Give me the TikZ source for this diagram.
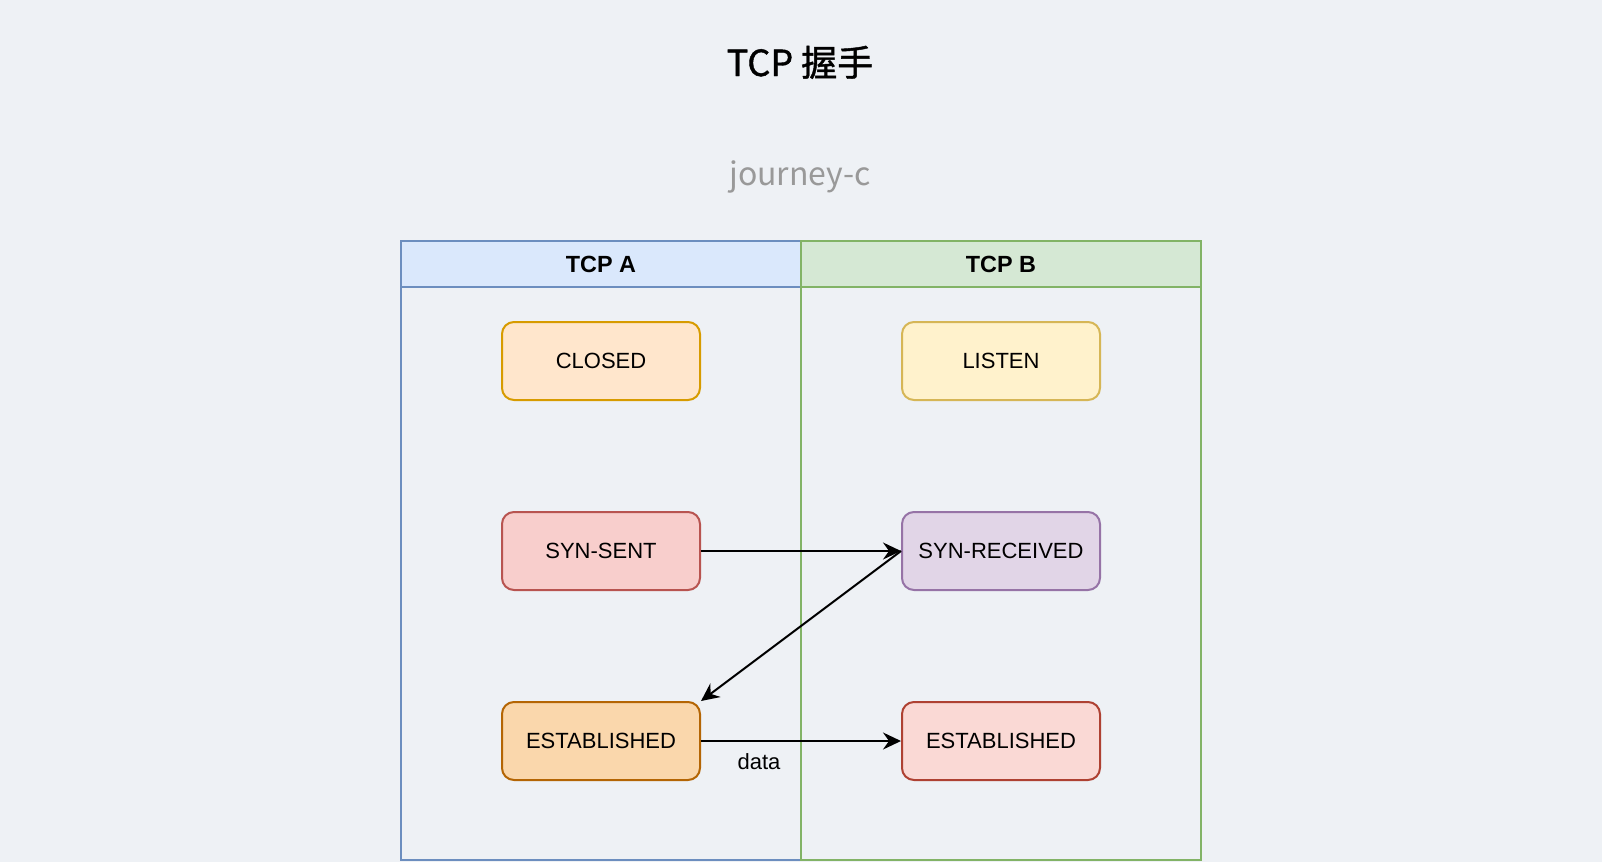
\documentclass[tikz,border=0pt]{standalone}
\usepackage{fontspec}
\setmainfont{Liberation Sans}
\newfontfamily\cjkfont{Noto Sans CJK SC}
\newfontfamily\cjktitle[FakeBold=1.2]{Noto Sans CJK SC}
\usetikzlibrary{arrows.meta}
\definecolor{bg}{HTML}{EEF1F5}
\definecolor{blueF}{HTML}{DAE8FC}
\definecolor{blueS}{HTML}{6C8EBF}
\definecolor{greenF}{HTML}{D5E8D4}
\definecolor{greenS}{HTML}{82B366}
\definecolor{orangeF}{HTML}{FFE6CC}
\definecolor{orangeS}{HTML}{D79B00}
\definecolor{yellowF}{HTML}{FFF2CC}
\definecolor{yellowS}{HTML}{D6B656}
\definecolor{redF}{HTML}{F8CECC}
\definecolor{redS}{HTML}{B85450}
\definecolor{purpleF}{HTML}{E1D5E7}
\definecolor{purpleS}{HTML}{9673A6}
\definecolor{darkorF}{HTML}{FAD7AC}
\definecolor{darkorS}{HTML}{B46504}
\definecolor{pinkF}{HTML}{FAD9D5}
\definecolor{pinkS}{HTML}{AE4132}
\definecolor{subgray}{HTML}{999999}
\begin{document}
\begin{tikzpicture}[x=1pt,y=-1pt,
  state/.style={draw, line width=2pt, rounded corners=12pt, minimum width=198pt, minimum height=78pt,
    inner sep=0pt, font=\fontsize{22}{26}\selectfont},
  header/.style={draw, line width=2pt, minimum width=400pt, minimum height=46pt, inner sep=0pt,
    font=\fontsize{23.4}{28}\selectfont\bfseries},
  conn/.style={draw, line width=2pt, -{Stealth[length=18pt,width=17pt,inset=6pt]}},
  lbl/.style={font=\fontsize{22}{26}\selectfont, inner sep=0pt}
]
\fill[bg] (0,0) rectangle (1602,862);
\useasboundingbox (0,0) rectangle (1602,862);

\node[anchor=base, inner sep=0pt, font=\fontsize{36}{42}\selectfont\cjktitle] (title) at (800,76) {TCP 握手};
\node[anchor=base, inner sep=0pt, text=subgray, font=\fontsize{32}{36}\selectfont\cjkfont] (sub) at (800,185) {journey-c};

% lanes
\draw[blueS, line width=2pt] (401,241) rectangle (801,860);
\node[header, draw=blueS, fill=blueF] (hA) at (601,264) {TCP A};
\draw[greenS, line width=2pt] (801,241) rectangle (1201,860);
\node[header, draw=greenS, fill=greenF] (hB) at (1001,264) {TCP B};

% states
\node[state, draw=orangeS, fill=orangeF] (closed) at (601,361) {CLOSED};
\node[state, draw=yellowS, fill=yellowF] (listen) at (1001,361) {LISTEN};
\node[state, draw=redS, fill=redF] (ss) at (601,551) {SYN-SENT};
\node[state, draw=purpleS, fill=purpleF] (sr) at (1001,551) {SYN-RECEIVED};
\node[state, draw=darkorS, fill=darkorF] (eA) at (601,741) {ESTABLISHED};
\node[state, draw=pinkS, fill=pinkF] (eB) at (1001,741) {ESTABLISHED};

\draw[conn] (ss.east) -- (sr.west);
\draw[conn] (sr.west) -- (eA.north east);
\draw[conn] (eA.east) -- node[lbl, pos=0.29, yshift=-21pt] (data) {data} (eB.west);
\end{tikzpicture}
\end{document}
